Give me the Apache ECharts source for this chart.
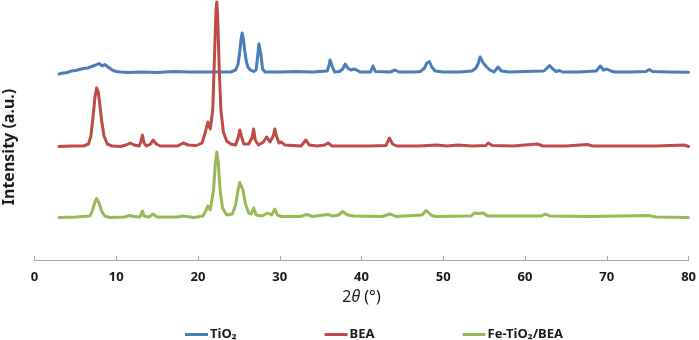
<!DOCTYPE html>
<html>
<head>
<meta charset="utf-8">
<script src="https://cdn.jsdelivr.net/npm/echarts@6/dist/echarts.min.js"></script>
<style>
  html, body { margin: 0; padding: 0; background: #fff; }
  #xrdchart { width: 699px; height: 340px; }
</style>
</head>
<body>
<div id="xrdchart"></div>
<script>
// series names (legend order)
const seriesNames = ['TiO₂', 'BEA', 'Fe-TiO₂/BEA'];
const seriesColors = ['#4A7EBB', '#BE4B48', '#98B954'];

// 2theta ticks
const xMin = 0;
const xMax = 80;
const xStep = 10;

// [2theta, intensity (a.u., curves already offset)]
const tio2Points = [
  [3.0, 186], [3.5, 187], [4.0, 187.5], [4.5, 189], [5.0, 189.5], [5.5, 190.5],
  [6.0, 191.5], [6.5, 192], [7.0, 193.5], [7.5, 195], [7.9, 196.5], [8.3, 194],
  [8.6, 195.5], [9.0, 193], [9.5, 190], [10.0, 188.5], [10.5, 188], [11.5, 187.5],
  [13.0, 188], [15.0, 187.5], [17.0, 188.5], [19.0, 188], [21.0, 188], [23.0, 188],
  [24.0, 188], [24.6, 190], [24.9, 196], [25.1, 208], [25.25, 220], [25.4, 227],
  [25.55, 221], [25.7, 210], [25.9, 199], [26.1, 193], [26.4, 190], [26.8, 188.5],
  [27.1, 190], [27.3, 204], [27.45, 216], [27.55, 217], [27.7, 205], [27.9, 191],
  [28.2, 188], [30.0, 188], [32.0, 188.5], [34.0, 188], [35.8, 189], [36.0, 194],
  [36.15, 200], [36.25, 200.5], [36.4, 194], [36.7, 188], [37.3, 188.5], [37.7, 191],
  [38.0, 196], [38.3, 192], [38.7, 190], [39.1, 191], [39.4, 190], [39.8, 188],
  [41.1, 188], [41.4, 194], [41.7, 188.5], [43.5, 188], [44.1, 190], [44.6, 188],
  [46.5, 188], [47.2, 188.5], [47.7, 192], [48.0, 197], [48.3, 198.5], [48.6, 193],
  [49.0, 189], [50.0, 188], [52.0, 188], [53.5, 189], [54.0, 192], [54.3, 197],
  [54.5, 203], [54.65, 204], [54.9, 197], [55.3, 193], [55.7, 190], [56.2, 188],
  [56.7, 193], [57.1, 189], [58.0, 188], [60.0, 188.5], [62.3, 189], [62.7, 192],
  [63.0, 194.5], [63.4, 191], [63.8, 188.5], [64.2, 189.5], [64.6, 188], [66.5, 188],
  [68.7, 189], [69.2, 194], [69.6, 190], [70.0, 191], [70.5, 189], [71.0, 188],
  [73.0, 188], [74.8, 188.5], [75.2, 190.5], [75.6, 188.5], [77.5, 188], [80.0, 187.7]
];

const beaPoints = [
  [3.0, 113.5], [4.5, 114], [6.0, 114], [6.6, 116], [6.9, 124], [7.15, 142],
  [7.4, 163], [7.6, 172], [7.8, 168], [8.0, 155], [8.2, 140], [8.5, 124],
  [8.9, 116], [9.5, 114], [10.5, 113.5], [11.2, 115], [11.7, 117], [12.2, 115],
  [12.8, 114], [13.0, 118], [13.2, 125], [13.4, 117], [13.7, 114], [14.2, 116],
  [14.5, 120], [14.9, 116], [15.4, 114], [17.5, 114], [18.2, 117], [18.8, 115],
  [19.8, 114.5], [20.5, 117], [20.9, 128], [21.2, 138], [21.5, 131], [21.8, 150],
  [22.0, 200], [22.2, 250], [22.3, 258], [22.4, 245], [22.6, 190], [22.8, 150],
  [23.1, 128], [23.5, 119], [24.0, 116], [24.6, 115], [24.9, 122], [25.1, 130],
  [25.3, 124], [25.6, 116], [26.2, 116], [26.6, 122], [26.8, 131], [27.0, 120],
  [27.4, 115], [28.0, 118], [28.4, 123], [28.8, 118], [29.2, 124], [29.4, 131],
  [29.6, 124], [29.9, 117], [30.2, 118], [30.6, 115], [32.6, 114], [33.2, 120],
  [33.6, 115], [34.6, 114], [35.5, 115], [35.9, 117], [36.4, 114], [39.0, 114],
  [41.0, 114], [43.0, 114.5], [43.4, 122], [43.8, 116], [44.3, 114], [47.0, 114],
  [49.2, 115], [50.5, 114], [51.8, 115], [53.5, 114], [55.2, 114.5], [55.5, 117],
  [56.0, 114.5], [58.5, 114], [61.5, 116], [62.2, 114], [65.0, 114], [67.6, 115.5],
  [68.3, 114], [72.0, 114], [76.0, 114], [79.5, 115], [80.0, 113.5]
];

const feTio2BeaPoints = [
  [3.0, 42.5], [5.0, 43], [6.8, 44], [7.1, 50], [7.4, 58], [7.6, 61.5],
  [7.9, 57], [8.2, 49], [8.6, 44], [9.2, 42.5], [11.0, 43], [11.6, 44.5],
  [12.2, 43.5], [12.9, 43], [13.2, 49], [13.4, 44], [14.0, 43], [14.5, 46],
  [15.0, 43], [17.5, 43], [18.1, 44], [19.5, 42.5], [20.6, 44], [21.0, 50],
  [21.2, 54], [21.5, 50], [21.9, 70], [22.1, 95], [22.3, 108], [22.5, 95],
  [22.7, 70], [23.0, 52], [23.5, 45], [24.2, 46], [24.6, 55], [24.9, 70],
  [25.1, 77.5], [25.3, 78.5], [25.5, 70], [25.8, 56], [26.2, 47], [26.5, 46],
  [26.8, 52], [27.1, 45], [27.8, 44], [28.5, 47], [29.0, 45], [29.4, 51],
  [29.7, 45], [30.2, 43.5], [32.5, 43.5], [33.3, 45.5], [34.0, 43.5], [35.9, 45.5],
  [36.5, 44], [37.2, 45], [37.7, 48.5], [38.3, 45], [39.0, 44], [42.5, 43.5],
  [43.5, 46], [44.2, 43.5], [47.4, 45], [47.9, 49.5], [48.5, 45], [49.0, 43.5],
  [53.4, 44], [53.8, 47], [54.3, 46.5], [54.9, 47], [55.4, 44], [62.0, 44],
  [62.5, 46], [63.0, 44], [68.0, 43.5], [75.1, 44.5], [76.0, 43], [80.0, 42.5]
];

const seriesPoints = [tio2Points, beaPoints, feTio2BeaPoints];

let xrdchart = echarts.init(document.getElementById('xrdchart'));
xrdchart.setOption({
  animation: false,
  grid: {
    left: 34.5,
    right: 10,
    top: 0,
    bottom: 80
  },
  legend: {
    left: 180,
    top: 323,
    icon: 'rect',
    itemWidth: 23,
    itemHeight: 3,
    itemGap: 88,
    textStyle: {
      fontFamily: 'Noto Sans',
      fontWeight: 'bold',
      fontSize: 13,
      color: '#1a1a1a',
      padding: [0, 0, 0, -3]
    },
    data: seriesNames
  },
  graphic: [
    {
      type: 'text',
      x: 9.5,
      y: 147,
      rotation: Math.PI / 2,
      style: {
        text: 'Intensity (a.u.)',
        fontFamily: 'Noto Sans',
        fontWeight: 'bold',
        fontSize: 16,
        fill: '#1a1a1a',
        textAlign: 'center',
        textVerticalAlign: 'middle'
      }
    }
  ],
  xAxis: {
    type: 'value',
    min: xMin,
    max: xMax,
    interval: xStep,
    name: '2{i|θ} (°)',
    nameLocation: 'middle',
    nameGap: 29,
    nameTextStyle: {
      fontFamily: 'Noto Sans',
      fontSize: 16,
      color: '#1a1a1a',
      rich: {
        i: { fontFamily: 'Noto Sans', fontSize: 16, fontStyle: 'italic', color: '#1a1a1a' }
      }
    },
    axisLine: { lineStyle: { color: '#a6a6a6', width: 1 } },
    axisTick: { inside: true, length: 4, lineStyle: { color: '#a6a6a6' } },
    axisLabel: {
      margin: 11,
      fontFamily: 'Noto Sans',
      fontWeight: 'bold',
      fontSize: 13,
      color: '#1a1a1a'
    },
    splitLine: { show: false }
  },
  yAxis: {
    type: 'value',
    min: 0,
    max: 260,
    show: false,
    splitLine: { show: false }
  },
  series: seriesNames.map((name, i) => ({
    name: name,
    type: 'line',
    data: seriesPoints[i],
    symbol: 'none',
    smooth: false,
    color: seriesColors[i],
    lineStyle: { width: 3, color: seriesColors[i], cap: 'round', join: 'round' }
  }))
});
</script>
</body>
</html>
